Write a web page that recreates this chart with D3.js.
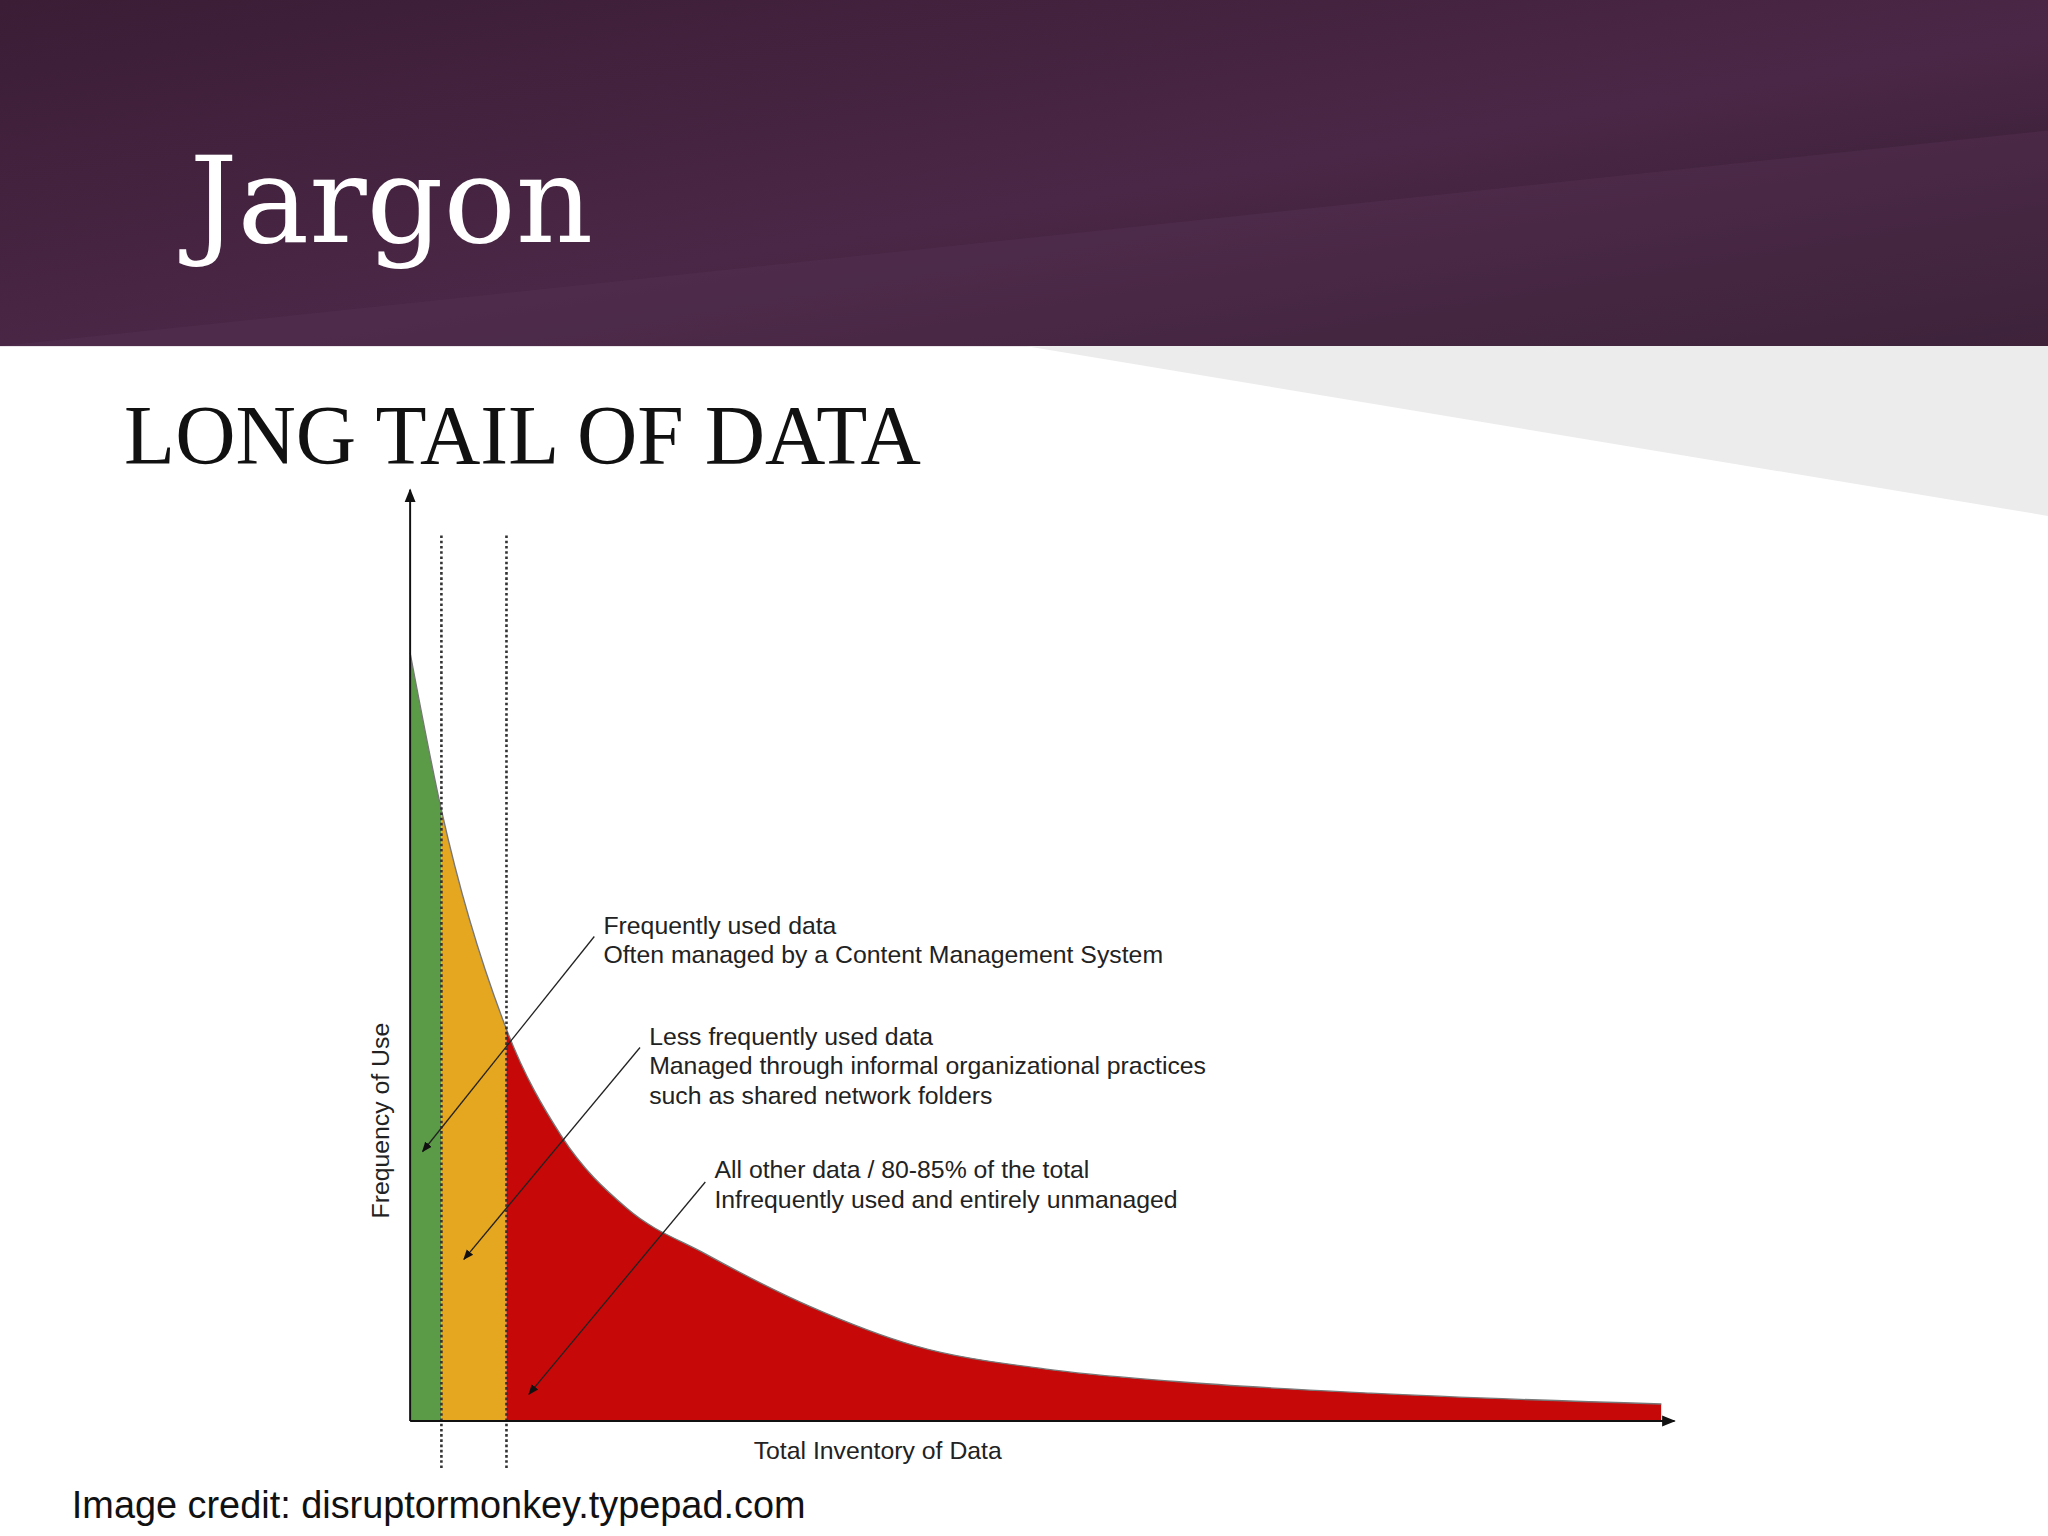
<!DOCTYPE html>
<html>
<head>
<meta charset="utf-8">
<script src="https://cdn.jsdelivr.net/npm/d3@7"></script>
<style>
  body { margin: 0; background: #fff; }
  svg { display: block; }
</style>
</head>
<body>
<svg id="chart" width="2048" height="1536" viewBox="0 0 1568 1176"></svg>
<script>
// curve: inventory share (0-100) vs frequency of use (0-100)
const inventory = [0, 2.5, 7.7, 12.1, 17.3, 23.6, 31.9, 40.3, 50.7, 61.2, 76.8, 100];
const frequency = [85.5, 68, 43.6, 31.7, 23.7, 18.6, 12.8, 8.4, 5.8, 4.4, 3.1, 1.9];
const bands = [
  { name: "frequent", from: 0, to: 2.5, color: "#5b9a47" },
  { name: "less", from: 2.5, to: 7.7, color: "#e5a620" },
  { name: "other", from: 7.7, to: 100, color: "#c70808" }
];
const notes = [
  { lines: ["Frequently used data", "Often managed by a Content Management System"], tx: 462, ty: 715, ax: [455, 717], at: [1.0, 30] },
  { lines: ["Less frequently used data", "Managed through informal organizational practices", "such as shared network folders"], tx: 497, ty: 800, ax: [490, 802], at: [4.3, 18] },
  { lines: ["All other data / 80-85% of the total", "Infrequently used and entirely unmanaged"], tx: 547, ty: 902, ax: [540, 905], at: [9.5, 3] }
];

const svg = d3.select("#chart");
const defs = svg.append("defs");

// header band
const hg = defs.append("linearGradient").attr("id", "hdr").attr("x1", 0).attr("y1", 0).attr("x2", 1).attr("y2", 1);
hg.append("stop").attr("offset", "0%").attr("stop-color", "#3b1d36");
hg.append("stop").attr("offset", "55%").attr("stop-color", "#4a2746");
hg.append("stop").attr("offset", "100%").attr("stop-color", "#2f1a2c");
svg.append("rect").attr("width", 1568).attr("height", 265).attr("fill", "url(#hdr)");
svg.append("path").attr("d", "M0,265 L1568,100 L1568,265 Z").attr("fill", "#5a3456").attr("opacity", 0.35);
svg.append("path").attr("d", "M785,265 L1568,265 L1568,395 Z").attr("fill", "#ececec");

svg.append("text").attr("x", 145).attr("y", 185)
  .attr("font-family", "DejaVu Serif, Liberation Serif, serif").attr("font-size", 92)
  .attr("fill", "#fff").text("Jargon");
svg.append("text").attr("x", 95).attr("y", 355)
  .attr("font-family", "Liberation Serif, DejaVu Serif, serif").attr("font-size", 64)
  .attr("fill", "#111").text("LONG TAIL OF DATA");

const x = d3.scaleLinear().domain([0, 100]).range([314, 1272]);
const y = d3.scaleLinear().domain([0, 100]).range([1088, 400]);
const pts = inventory.map((v, i) => [v, frequency[i]]);

const area = d3.area().x(d => x(d[0])).y0(y(0)).y1(d => y(d[1])).curve(d3.curveMonotoneX);
const line = d3.line().x(d => x(d[0])).y(d => y(d[1])).curve(d3.curveMonotoneX);

bands.forEach(b => {
  defs.append("clipPath").attr("id", "clip-" + b.name)
    .append("rect").attr("x", x(b.from)).attr("y", 0)
    .attr("width", x(b.to) - x(b.from)).attr("height", 1100);
  svg.append("path").datum(pts).attr("d", area).attr("fill", b.color)
    .attr("clip-path", `url(#clip-${b.name})`);
});
svg.append("path").datum(pts).attr("d", line).attr("fill", "none").attr("stroke", "#777").attr("stroke-width", 1);

// dotted dividers
[2.5, 7.7].forEach(v => {
  svg.append("line").attr("x1", x(v)).attr("x2", x(v)).attr("y1", 410).attr("y2", 1125)
    .attr("stroke", "#333").attr("stroke-width", 2).attr("stroke-dasharray", "2,2");
});

// axes with arrows
defs.append("marker").attr("id", "arr").attr("viewBox", "0 0 10 10").attr("refX", 9).attr("refY", 5)
  .attr("markerWidth", 7).attr("markerHeight", 7).attr("orient", "auto")
  .append("path").attr("d", "M0,1 L10,5 L0,9 Z").attr("fill", "#111");
svg.append("line").attr("x1", 314).attr("y1", 1088).attr("x2", 314).attr("y2", 375)
  .attr("stroke", "#111").attr("stroke-width", 1.5).attr("marker-end", "url(#arr)");
svg.append("line").attr("x1", 314).attr("y1", 1088).attr("x2", 1282).attr("y2", 1088)
  .attr("stroke", "#111").attr("stroke-width", 1.5).attr("marker-end", "url(#arr)");

const sans = "Liberation Sans, Arial, sans-serif";
svg.append("text").attr("transform", "translate(298,858) rotate(-90)").attr("text-anchor", "middle")
  .attr("font-family", sans).attr("font-size", 19).attr("fill", "#222").text("Frequency of Use");
svg.append("text").attr("x", 672).attr("y", 1117).attr("text-anchor", "middle")
  .attr("font-family", sans).attr("font-size", 19).attr("fill", "#222").text("Total Inventory of Data");

// annotations
defs.append("marker").attr("id", "arr2").attr("viewBox", "0 0 10 10").attr("refX", 9).attr("refY", 5)
  .attr("markerWidth", 8).attr("markerHeight", 8).attr("orient", "auto")
  .append("path").attr("d", "M0,1 L10,5 L0,9 Z").attr("fill", "#111");
notes.forEach(n => {
  svg.append("line").attr("x1", n.ax[0]).attr("y1", n.ax[1]).attr("x2", x(n.at[0])).attr("y2", y(n.at[1]))
    .attr("stroke", "#222").attr("stroke-width", 1).attr("marker-end", "url(#arr2)");
  const t = svg.append("text").attr("font-family", sans).attr("font-size", 19).attr("fill", "#222");
  n.lines.forEach((s, i) => t.append("tspan").attr("x", n.tx).attr("y", n.ty + i * 22.5).text(s));
});

svg.append("text").attr("x", 55).attr("y", 1162).attr("font-family", sans).attr("font-size", 29)
  .attr("fill", "#111").text("Image credit: disruptormonkey.typepad.com");
</script>
</body>
</html>
